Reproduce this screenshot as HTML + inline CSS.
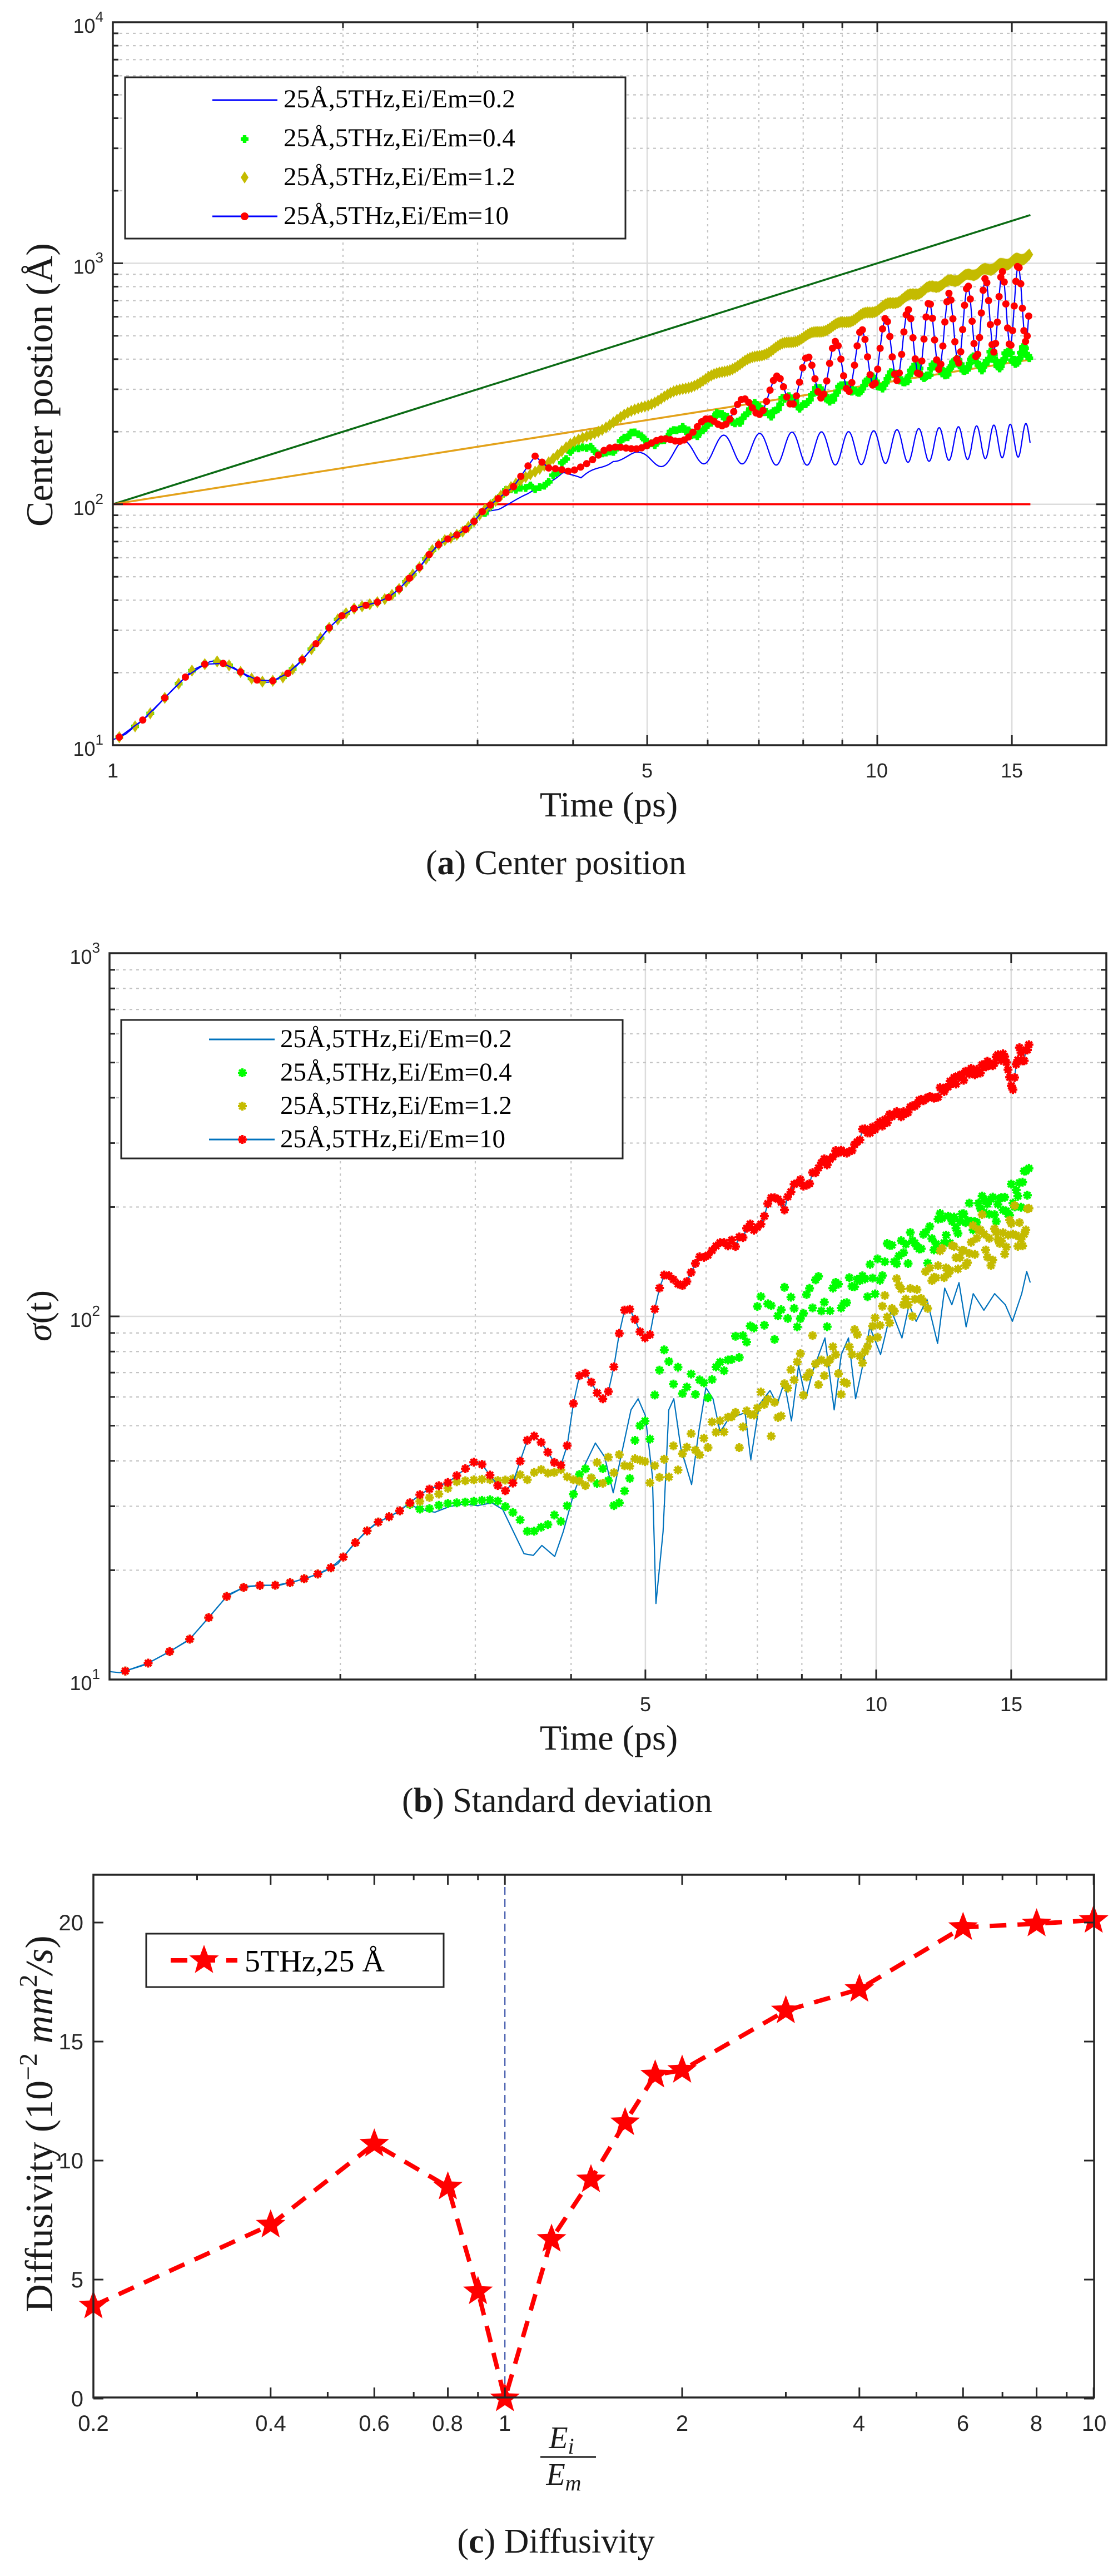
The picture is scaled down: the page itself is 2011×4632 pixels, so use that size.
<!DOCTYPE html>
<html><head><meta charset="utf-8"><style>
html,body{margin:0;padding:0;background:#fff;width:2011px;height:4632px;overflow:hidden}
svg{display:block}
</style></head><body>
<svg id="s" xmlns="http://www.w3.org/2000/svg" width="2011" height="4632" viewBox="0 0 2011 4632">
<rect width="2011" height="4632" fill="#fff"/>
<g id="g"></g>
<g font-family="'Liberation Sans',sans-serif" font-size="36" fill="#262626">
 <text x="186" y="1359" text-anchor="end">10<tspan font-size="26" dy="-20">1</tspan></text>
 <text x="186" y="926" text-anchor="end">10<tspan font-size="26" dy="-20">2</tspan></text>
 <text x="186" y="492" text-anchor="end">10<tspan font-size="26" dy="-20">3</tspan></text>
 <text x="186" y="59" text-anchor="end">10<tspan font-size="26" dy="-20">4</tspan></text>
 <text x="203" y="1398" text-anchor="middle">1</text>
 <text x="1164" y="1398" text-anchor="middle">5</text>
 <text x="1577" y="1398" text-anchor="middle">10</text>
 <text x="1820" y="1398" text-anchor="middle">15</text>

 <text x="180" y="3039" text-anchor="end">10<tspan font-size="26" dy="-20">1</tspan></text>
 <text x="180" y="2386" text-anchor="end">10<tspan font-size="26" dy="-20">2</tspan></text>
 <text x="180" y="1733" text-anchor="end">10<tspan font-size="26" dy="-20">3</tspan></text>
 <text x="1161" y="3077" text-anchor="middle">5</text>
 <text x="1576" y="3077" text-anchor="middle">10</text>
 <text x="1819" y="3077" text-anchor="middle">15</text>
</g>
<g font-family="'Liberation Sans',sans-serif" font-size="40" fill="#262626">
 <text x="150" y="4327" text-anchor="end">0</text>
 <text x="150" y="4113" text-anchor="end">5</text>
 <text x="150" y="3899" text-anchor="end">10</text>
 <text x="150" y="3685" text-anchor="end">15</text>
 <text x="150" y="3471" text-anchor="end">20</text>
 <text x="168" y="4371" text-anchor="middle">0.2</text>
 <text x="487" y="4371" text-anchor="middle">0.4</text>
 <text x="673" y="4371" text-anchor="middle">0.6</text>
 <text x="805" y="4371" text-anchor="middle">0.8</text>
 <text x="908" y="4371" text-anchor="middle">1</text>
 <text x="1227" y="4371" text-anchor="middle">2</text>
 <text x="1545" y="4371" text-anchor="middle">4</text>
 <text x="1732" y="4371" text-anchor="middle">6</text>
 <text x="1864" y="4371" text-anchor="middle">8</text>
 <text x="1968" y="4371" text-anchor="middle">10</text>
</g>
<g font-family="'Liberation Serif',serif" fill="#1a1a1a">
 <text x="1095" y="1468" font-size="64" text-anchor="middle">Time (ps)</text>
 <text transform="translate(94,692) rotate(-90)" font-size="68" text-anchor="middle">Center postion (Å)</text>
 <text x="1000" y="1572" font-size="62" text-anchor="middle">(<tspan font-weight="bold">a</tspan>) Center position</text>

 <text x="1095" y="3146" font-size="64" text-anchor="middle">Time (ps)</text>
 <text transform="translate(92,2366) rotate(-90)" font-size="64" text-anchor="middle"><tspan font-style="italic">σ</tspan>(t)</text>
 <text x="1002" y="3258" font-size="62" text-anchor="middle">(<tspan font-weight="bold">b</tspan>) Standard deviation</text>

 <text transform="translate(94,3819) rotate(-90)" font-size="70" text-anchor="middle">Diffusivity (10<tspan font-size="46" dy="-28">−2</tspan><tspan dy="28"> </tspan><tspan font-style="italic">mm</tspan><tspan font-size="46" dy="-28">2</tspan><tspan dy="28" font-style="italic">/s</tspan>)</text>
 <text x="1010" y="4402" font-size="56" font-style="italic" text-anchor="middle">E<tspan font-size="40" dy="10">i</tspan></text>
 <line x1="972" y1="4418" x2="1072" y2="4418" stroke="#1a1a1a" stroke-width="3"/>
 <text x="1014" y="4468" font-size="56" font-style="italic" text-anchor="middle">E<tspan font-size="40" dy="10">m</tspan></text>
 <text x="1000" y="4590" font-size="62" text-anchor="middle">(<tspan font-weight="bold">c</tspan>) Diffusivity</text>
</g>
</svg>
<script>
(function(){
var G=document.getElementById('g');var out=[];
function L(x){return Math.log(x)/Math.LN10;}
var seed=12345;function rnd(){seed=(seed*1103515245+12345)%2147483648;return seed/2147483648;}
function lin(p,u){if(u<=p[0][0])return p[0][1];for(var i=1;i<p.length;i++){if(u<=p[i][0]){var a=p[i-1],b=p[i];return a[1]+(b[1]-a[1])*(u-a[0])/(b[0]-a[0]);}}return p[p.length-1][1];}
function path(pts,st,w,extra){var d='';for(var i=0;i<pts.length;i++)d+=(i?'L':'M')+pts[i][0].toFixed(1)+' '+pts[i][1].toFixed(1);out.push('<path d="'+d+'" fill="none" stroke="'+st+'" stroke-width="'+w+'" stroke-linejoin="round" '+(extra||'')+'/>');}
function line(x1,y1,x2,y2,st,w,extra){out.push('<line x1="'+x1+'" y1="'+y1+'" x2="'+x2+'" y2="'+y2+'" stroke="'+st+'" stroke-width="'+w+'" '+(extra||'')+'/>');}
function dot(x,y,r,c){out.push('<circle cx="'+x.toFixed(1)+'" cy="'+y.toFixed(1)+'" r="'+r+'" fill="'+c+'"/>');}
function diam(x,y,w,h,c){out.push('<path d="M'+x.toFixed(1)+' '+(y-h).toFixed(1)+'L'+(x+w).toFixed(1)+' '+y.toFixed(1)+'L'+x.toFixed(1)+' '+(y+h).toFixed(1)+'L'+(x-w).toFixed(1)+' '+y.toFixed(1)+'Z" fill="'+c+'"/>');}
function plus(x,y,r,c){out.push('<path d="M'+(x-r).toFixed(1)+' '+y.toFixed(1)+'H'+(x+r).toFixed(1)+'M'+x.toFixed(1)+' '+(y-r).toFixed(1)+'V'+(y+r).toFixed(1)+'" stroke="'+c+'" stroke-width="'+(r*0.9)+'"/>');dot(x,y,r*0.75,c);}
function ast(x,y,r,c){dot(x,y,r*0.72,c);var d='';for(var k=0;k<4;k++){var a=k*Math.PI/4;d+='M'+(x-r*Math.cos(a)).toFixed(1)+' '+(y-r*Math.sin(a)).toFixed(1)+'L'+(x+r*Math.cos(a)).toFixed(1)+' '+(y+r*Math.sin(a)).toFixed(1);}out.push('<path d="'+d+'" stroke="'+c+'" stroke-width="4"/>');}
function star(x,y,R,c){var d='';for(var k=0;k<10;k++){var a=-Math.PI/2+k*Math.PI/5;var r=k%2?R*0.42:R;d+=(k?'L':'M')+(x+r*Math.cos(a)).toFixed(1)+' '+(y+r*Math.sin(a)).toFixed(1);}out.push('<path d="'+d+'Z" fill="'+c+'"/>');}

function logPanel(o){
 var X0=o.x0,X1=o.x1,Y0=o.y0,Y1=o.y1;
 var xm=[2,3,4,6,7,8,9];var xM=[5,10,15];
 xm.forEach(function(t){var x=o.xr(t);line(x,Y0,x,Y1,'#c4c4c4',2.2,'stroke-dasharray="4 7"');});
 xM.forEach(function(t){var x=o.xr(t);line(x,Y0,x,Y1,'#dcdcdc',2.5);});
 for(var e=o.e0;e<o.e1;e++){for(var k=2;k<=9;k++){var y=o.yr(k*Math.pow(10,e));line(X0,y,X1,y,'#c4c4c4',2.2,'stroke-dasharray="5 7"');}}
 for(var e2=o.e0+1;e2<o.e1;e2++){var y2=o.yr(Math.pow(10,e2));line(X0,y2,X1,y2,'#dcdcdc',2.5);}
}
function logTicks(o){
 var X0=o.x0,X1=o.x1,Y0=o.y0,Y1=o.y1,c='#262626';
 [2,3,4,6,7,8,9].forEach(function(t){var x=o.xr(t);line(x,Y1,x,Y1-10,c,3);line(x,Y0,x,Y0+10,c,3);});
 [1,5,10,15].forEach(function(t){var x=o.xr(t);line(x,Y1,x,Y1-18,c,3);line(x,Y0,x,Y0+18,c,3);});
 for(var e=o.e0;e<o.e1;e++){for(var k=2;k<=9;k++){var y=o.yr(k*Math.pow(10,e));line(X0,y,X0+10,y,c,3);line(X1,y,X1-10,y,c,3);}}
 for(var e2=o.e0;e2<=o.e1;e2++){var y2=o.yr(Math.pow(10,e2));line(X0,y2,X0+18,y2,c,3);line(X1,y2,X1-18,y2,c,3);}
 out.push('<rect x="'+X0+'" y="'+Y0+'" width="'+(X1-X0)+'" height="'+(Y1-Y0)+'" fill="none" stroke="'+c+'" stroke-width="3.5"/>');
}

// ================= PANEL A =================
var A={x0:203,x1:1990,y0:40,y1:1340,e0:1,e1:4,xr:function(t){return 203+1375*L(t);},yr:function(v){return 1340-433.3*(L(v)-1);}};
logPanel(A);
function ax(u){return u*1.2825;} function ay(v){return v*0.995;}
function uA(t){return 158+1072*L(t);}
var early=[[158,1337],[175,1328],[208,1293],[240,1249],[270,1211],[299,1193],[325,1204],[350,1225],[374,1234],[397,1224],[418,1201],[439,1170],[459,1138],[478,1114],[496,1100],[513,1094],[530,1088],[546,1079],[561,1063],[577,1041],[592,1020],[607,993],[622,977],[636,970],[650,960],[663,945],[676,925]];
var te=15.86;
line(A.xr(1),A.yr(100),A.xr(te),A.yr(100*te),'#0b6b14',3.5);
line(A.xr(1),A.yr(100),A.xr(te),A.yr(100*Math.sqrt(te)),'#e3a21a',3.5);
line(A.xr(1),A.yr(100),A.xr(te),A.yr(100),'#ff0000',3.5);
var bBase=early.concat([[700,920],[740,895],[790,850],[815,870],[860,825],[900,830],[1000,812],[1200,810],[1445,795]]);
var bAmp=[[676,0],[880,10],[950,22],[1100,30],[1445,30]];
var pts=[];for(var t=1;t<=15.86;t+=0.02){var u=uA(t);var y=lin(bBase,u)+lin(bAmp,u)*Math.sin(2*Math.PI*t/0.72);pts.push([ax(u),ay(y)]);}
path(pts,'#0000ff',2.2);
var gBase=early.concat([[700,905],[740,880],[780,850],[820,810],[860,808],[900,790],[940,790],[1000,765],[1100,730],[1200,700],[1300,670],[1445,640]]);
for(var t=1.02;t<=15.86;t+=0.05){var u=uA(t);var a=u>676?12:0;var y=lin(gBase,u)+a*Math.sin(2*Math.PI*t/0.72+1)+(u>700?(rnd()-0.5)*10:0);plus(ax(u),ay(y),7,'#00ff00');}
var yBase=early.concat([[700,900],[740,860],[800,805],[850,770],[900,735],[1000,680],[1100,622],[1200,575],[1300,522],[1445,462]]);
for(var t=1.02;t<=15.86;t+=0.05){var u=uA(t);var y=lin(yBase,u)+(u>700?3*Math.sin(t*9):0);diam(ax(u),ay(y),7,11,'#c4bb00');}
var rBase=early.concat([[720,880],[750,825],[770,850],[800,855],[850,818],[900,810],[950,800],[1000,775],[1100,735],[1200,705],[1300,675],[1445,615]]);
var rAmp=[[676,0],[950,12],[1050,40],[1150,90],[1250,120],[1350,135],[1445,145]];
var rp=[];for(var t=1.02;t<=15.86;t+=0.075){var u=uA(t);var y=lin(rBase,u)-lin(rAmp,u)*(0.5+0.5*Math.sin(2*Math.PI*t/0.72));rp.push([ax(u),ay(y)]);}
path(rp,'#0000ff',2.2);
rp.forEach(function(p){dot(p[0],p[1],6.5,'#ff0000');});
logTicks(A);
out.push('<rect x="225" y="139" width="900" height="290" fill="#fff" stroke="#262626" stroke-width="3"/>');
line(382,180,499,180,'#0000ff',3);
plus(440,250,7,'#00ff00');
diam(440,319,7,11,'#c4bb00');
line(382,389,499,389,'#0000ff',3);dot(440,389,7,'#ff0000');
var labs=['0.2','0.4','1.2','10'];
for(var i=0;i<4;i++){out.push('<text x="510" y="'+(193+70*i)+'" font-family="Liberation Serif,serif" font-size="47" fill="#000">25Å,5THz,Ei/Em='+labs[i]+'</text>');}

// ================= PANEL B =================
var B={x0:197,x1:1990,y0:1714,y1:3020,e0:1,e1:3,xr:function(t){return 197+1379*L(t);},yr:function(v){return 3020-653*(L(v)-1);}};
logPanel(B);
function bx(u){return u*1.2825;} function by(v){return 1560+v*0.995;}
function uB(t){return 153+1072*L(t);}
var eb=[[153,1453],[168,1455],[203,1441],[235,1419],[265,1396],[293,1355],[320,1314],[345,1299],[369,1297],[392,1297],[414,1290],[435,1282],[455,1272],[474,1258],[492,1229],[510,1204],[527,1185],[543,1175],[558,1165],[573,1150]];
var blueB=eb.concat([[590,1160],[610,1165],[630,1155],[650,1150],[670,1153],[690,1148],[705,1160],[720,1200],[735,1240],[748,1243],[760,1225],[778,1245],[790,1200],[805,1130],[820,1080],[835,1040],[848,1065],[860,1130],[870,1070],[885,980],[895,960],[905,990],[915,1100],[920,1330],[930,1200],[938,980],[945,960],[955,1050],[970,1115],[980,1020],[990,940],[1000,960],[1010,1020],[1020,1000],[1035,990],[1045,985],[1053,1070],[1065,970],[1080,945],[1090,970],[1100,930],[1110,1000],[1120,900],[1130,960],[1140,910],[1157,850],[1170,980],[1180,880],[1190,850],[1200,960],[1210,900],[1220,830],[1235,880],[1250,800],[1265,850],[1275,790],[1285,820],[1300,780],[1315,860],[1325,760],[1335,790],[1345,750],[1355,830],[1365,770],[1380,800],[1395,770],[1410,790],[1420,820],[1433,770],[1440,730],[1445,750]]);
path(blueB.map(function(p){return [bx(p[0]),by(p[1])];}),'#0072bd',2.2);
var greenB=eb.concat([[590,1160],[605,1158],[620,1150],[640,1148],[660,1146],[680,1143],[695,1142],[715,1160],[728,1180],[738,1198],[748,1200],[760,1185],[770,1190],[780,1180],[790,1160],[800,1130],[810,1110],[820,1100],[830,1095],[845,1090],[860,1125],[870,1140],[880,1120],[890,1035],[900,1000],[905,985],[913,1025],[920,950],[930,900],[940,920],[950,895],[960,990],[970,940],[980,900],[990,935],[1000,900],[1010,870],[1020,880],[1030,875],[1040,860],[1050,840],[1060,790],[1070,815],[1080,815],[1090,820],[1100,790],[1110,780],[1120,800],[1130,780],[1140,780],[1150,770],[1160,805],[1170,770],[1180,790],[1190,770],[1200,775],[1210,765],[1220,745],[1230,740],[1240,720],[1250,705],[1260,690],[1270,700],[1280,690],[1290,695],[1300,690],[1310,660],[1320,655],[1330,640],[1340,665],[1350,625],[1360,640],[1370,615],[1380,620],[1390,600],[1400,610],[1410,590],[1420,600],[1430,595],[1440,570],[1445,565]]);
var yelB=eb.concat([[590,1145],[605,1137],[620,1130],[640,1110],[660,1107],[680,1105],[700,1108],[720,1104],[740,1100],[760,1098],[780,1096],[800,1108],[820,1105],[840,1098],[860,1088],[880,1090],[895,1100],[905,1085],[915,1075],[930,1075],[945,1075],[960,1060],[970,1035],[980,1030],[990,1050],[1000,1020],[1010,1000],[1020,1030],[1030,990],[1040,1040],[1050,990],[1060,960],[1070,930],[1080,1010],[1090,985],[1100,960],[1110,910],[1120,880],[1130,950],[1140,830],[1150,940],[1160,860],[1170,885],[1180,975],[1190,880],[1200,850],[1210,890],[1220,860],[1230,820],[1240,800],[1250,800],[1260,770],[1270,750],[1280,800],[1290,740],[1300,770],[1310,720],[1320,700],[1330,720],[1340,690],[1350,700],[1360,680],[1370,660],[1380,650],[1390,700],[1400,665],[1410,700],[1420,630],[1430,670],[1440,630],[1445,625]]);
function noiseAmp(u){return u<700?0:(u<900?(u-700)/200*35:35);}
for(var t=1.05;t<=16;t+=0.075){var u=uB(t);var y=lin(greenB,u)+(rnd()-0.5)*2*noiseAmp(u);ast(bx(u),by(y),8,'#00ff00');}
for(var t=1.05;t<=16;t+=0.075){var u=uB(t);var y=lin(yelB,u)+(rnd()-0.5)*2*noiseAmp(u);ast(bx(u),by(y),8,'#c4bb00');}
var redB=eb.concat([[590,1132],[604,1122],[618,1116],[631,1110],[644,1095],[657,1082],[669,1070],[681,1085],[693,1110],[706,1127],[716,1124],[727,1085],[737,1037],[749,1027],[760,1040],[770,1060],[780,1080],[790,1080],[797,1035],[806,952],[815,907],[825,918],[834,943],[843,960],[850,960],[858,928],[866,858],[875,800],[884,798],[891,818],[898,840],[906,852],[913,842],[920,784],[930,736],[940,738],[950,752],[960,757],[970,730],[980,703],[990,705],[1000,690],[1010,680],[1020,678],[1030,680],[1040,668],[1050,640],[1060,655],[1070,630],[1080,600],[1090,605],[1100,615],[1110,580],[1120,565],[1130,575],[1140,555],[1150,540],[1160,530],[1170,515],[1180,505],[1190,515],[1200,495],[1210,480],[1220,480],[1230,470],[1240,460],[1250,450],[1260,445],[1270,450],[1280,430],[1290,425],[1300,415],[1310,420],[1320,400],[1330,395],[1340,385],[1350,380],[1360,370],[1370,370],[1380,360],[1390,355],[1400,345],[1410,340],[1420,400],[1430,330],[1435,360],[1440,325],[1445,330]]);
var rbp=[];for(var t=1.05;t<=16;t+=0.075){var u=uB(t);var y=lin(redB,u)+(u>1000?(rnd()-0.5)*16:0);rbp.push([bx(u),by(y)]);}
path(rbp,'#0072bd',2.2);
rbp.forEach(function(p){ast(p[0],p[1],8,'#ff0000');});
logTicks(B);
out.push('<rect x="218" y="1834" width="902" height="249" fill="#fff" stroke="#262626" stroke-width="3"/>');
line(376,1869,494,1869,'#0072bd',3);
ast(436,1929,8,'#00ff00');
ast(436,1989,8,'#c4bb00');
line(376,2049,494,2049,'#0072bd',3);ast(436,2049,8,'#ff0000');
for(var i=0;i<4;i++){out.push('<text x="504" y="'+(1883+60*i)+'" font-family="Liberation Serif,serif" font-size="47" fill="#000">25Å,5THz,Ei/Em='+labs[i]+'</text>');}

// ================= PANEL C =================
var cx=function(e){return 168+1059*L(e/0.2);}, cy=function(d){return 4313-42.8*d;};
line(cx(1),3371,cx(1),4311,'#1f3c9e',2,'stroke-dasharray="14 8"');
var D=[[0.2,3.9],[0.4,7.3],[0.6,10.7],[0.8,8.9],[0.9,4.5],[1,0],[1.2,6.7],[1.4,9.2],[1.6,11.6],[1.8,13.6],[2,13.8],[3,16.3],[4,17.2],[6,19.8],[8,19.95],[10,20.1]];
path(D.map(function(p){return [cx(p[0]),cy(p[1])];}),'#ff0000',8,'stroke-dasharray="30 20" stroke-linecap="butt"');
D.forEach(function(p){star(cx(p[0]),cy(p[1]),28,'#ff0000');});
var c='#262626';
[0.3,0.5,0.7,0.9,3,5,7,9].forEach(function(e){var x=cx(e);line(x,4311,x,4301,c,3);line(x,3371,x,3381,c,3);});
[0.2,0.4,0.6,0.8,1,2,4,6,8,10].forEach(function(e){var x=cx(e);line(x,4311,x,4293,c,3);line(x,3371,x,3389,c,3);});
[0,5,10,15,20].forEach(function(d){var y=cy(d);line(168,y,186,y,c,3);line(1968,y,1950,y,c,3);});
out.push('<rect x="168" y="3371" width="1800" height="940" fill="none" stroke="'+c+'" stroke-width="3.5"/>');
out.push('<rect x="263" y="3477" width="535" height="96" fill="#fff" stroke="#262626" stroke-width="3"/>');
line(307,3525,427,3525,'#ff0000',8,'stroke-dasharray="30 20"');
star(367,3525,28,'#ff0000');
out.push('<text x="440" y="3545" font-family="Liberation Serif,serif" font-size="56" fill="#000">5THz,25 Å</text>');

var NS='http://www.w3.org/2000/svg';
var tmp=new DOMParser().parseFromString('<svg xmlns="'+NS+'">'+out.join('')+'</svg>','image/svg+xml');
var root=tmp.documentElement;
while(root.firstChild){G.appendChild(document.importNode(root.firstChild,true));root.removeChild(root.firstChild);}
})();
</script>
</body></html>
